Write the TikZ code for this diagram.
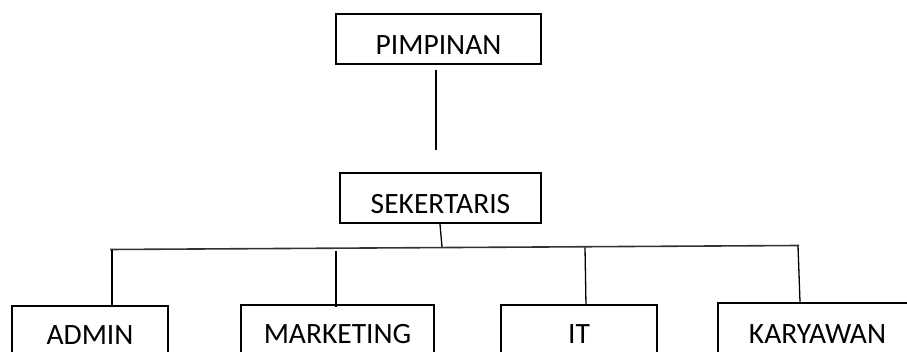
\documentclass[tikz,border=0pt]{standalone}
\usepackage{fontspec}
\setmainfont{Carlito}
\begin{document}
\begin{tikzpicture}[x=1pt,y=-1pt,
  orgbox/.style={draw=black, line width=2.4pt, rectangle, minimum height=50pt, inner sep=0pt,
    text height=31pt, text depth=0pt, font=\fontsize{29.5}{34}\selectfont, anchor=center},
  lowtext/.style={text height=27.5pt},
  conn/.style={draw=black, line width=1.3pt},
  bus/.style={draw=black!80, line width=1.6pt}]
\useasboundingbox (0,0) rectangle (907,352);
\begin{scope}
\clip (0,0) rectangle (907,352);
\node[orgbox, minimum width=205pt] (p) at (438.5,39) {PIMPINAN};
\node[orgbox, minimum width=201pt] (s) at (440.5,198) {SEKERTARIS};
\node[orgbox, lowtext, minimum width=156pt] (a) at (90,331) {ADMIN};
\node[orgbox, lowtext, minimum width=193pt] (m) at (337.5,330) {MARKETING};
\node[orgbox, lowtext, minimum width=156pt] (i) at (579,330) {IT};
\node[orgbox, minimum width=199pt] (k) at (817.5,328) {KARYAWAN};
\end{scope}
\coordinate (pe) at (436,150);
\coordinate (sj) at (442,247);
\coordinate (bl) at (110,249.5);
\coordinate (br) at (799,245.5);
\coordinate (ja) at (112,250);
\coordinate (jm) at (336,251.5);
\coordinate (ji) at (585,247.5);
\coordinate (jk) at (798,246);
\draw[conn] ([xshift=-2.5pt,yshift=-5pt]p.south) -- (pe);
\draw[conn] ([xshift=-0.5pt]s.south) -- (sj);
\draw[bus] (bl) -- (br);
\draw[conn] (ja) -- ([xshift=22pt]a.north);
\draw[conn] (jm) -- ([xshift=-1.5pt,yshift=-3pt]m.north);
\draw[conn] (ji) -- ([xshift=7pt,yshift=-2pt]i.north);
\draw[conn] (jk) -- ([xshift=-17.5pt]k.north);
\end{tikzpicture}
\end{document}
